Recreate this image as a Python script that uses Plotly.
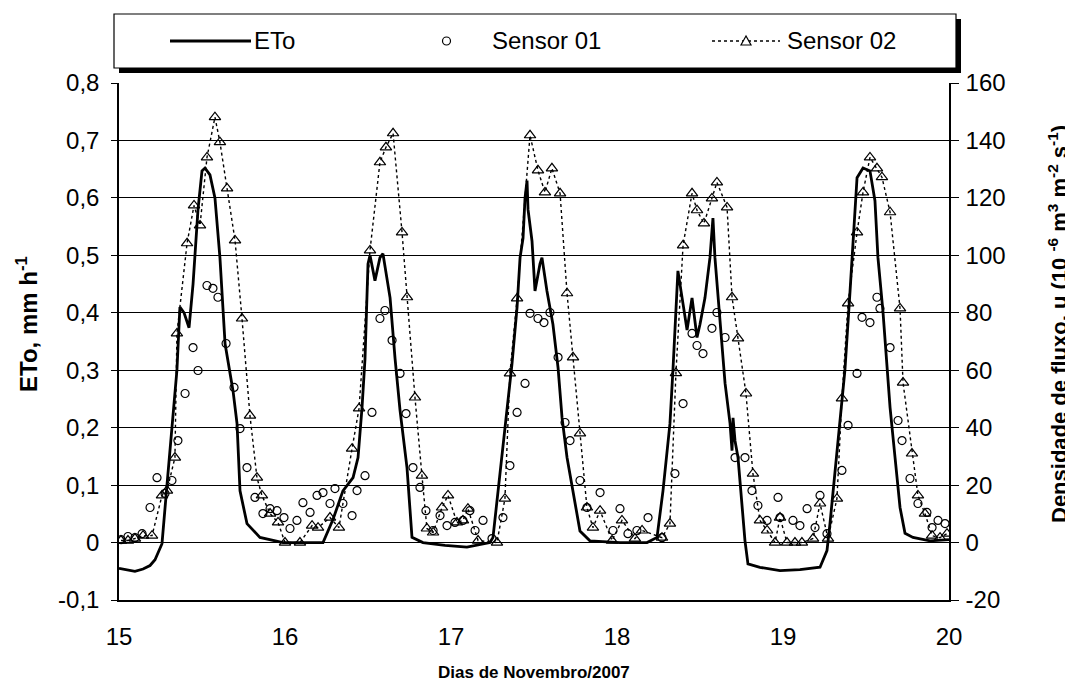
import plotly.graph_objects as go

# ---------------- data ----------------
# ETo (mm h-1) vs day of November 2007
eto_t = [15.000,15.048,15.096,15.145,15.187,15.217,15.241,15.259,15.289,15.319,15.349,15.367,15.392,15.422,15.446,15.476,15.500,15.518,15.548,15.578,15.608,15.639,15.687,15.711,15.729,15.771,15.849,15.988,16.090,16.229,16.289,16.349,16.410,16.440,16.464,16.482,16.500,16.512,16.542,16.572,16.590,16.633,16.663,16.693,16.735,16.765,16.831,16.964,17.096,17.235,17.253,17.295,17.325,17.367,17.398,17.416,17.434,17.446,17.458,17.464,17.488,17.506,17.536,17.548,17.578,17.614,17.645,17.669,17.699,17.735,17.777,17.837,18.018,18.181,18.241,18.277,18.319,18.337,18.367,18.398,18.422,18.452,18.482,18.500,18.530,18.560,18.578,18.590,18.620,18.651,18.681,18.693,18.699,18.711,18.729,18.753,18.771,18.789,18.861,18.982,19.102,19.223,19.265,19.283,19.313,19.343,19.373,19.404,19.422,19.446,19.482,19.524,19.554,19.572,19.602,19.627,19.645,19.675,19.705,19.735,19.783,19.886,20.000]
eto_v = [-0.045,-0.048,-0.050,-0.046,-0.040,-0.030,-0.015,-0.002,0.100,0.200,0.300,0.410,0.400,0.374,0.450,0.580,0.647,0.652,0.640,0.600,0.496,0.346,0.264,0.207,0.090,0.033,0.009,0.000,0.000,0.000,0.040,0.090,0.113,0.148,0.235,0.320,0.485,0.500,0.456,0.496,0.503,0.426,0.320,0.230,0.130,0.009,0.000,-0.005,-0.008,0.000,0.009,0.120,0.207,0.310,0.410,0.496,0.530,0.600,0.630,0.580,0.525,0.438,0.485,0.496,0.438,0.380,0.304,0.217,0.148,0.090,0.020,0.003,0.000,0.000,0.009,0.090,0.207,0.300,0.473,0.415,0.370,0.426,0.357,0.380,0.426,0.496,0.565,0.496,0.380,0.277,0.207,0.160,0.217,0.177,0.148,0.061,0.003,-0.037,-0.043,-0.049,-0.047,-0.043,-0.014,0.033,0.120,0.207,0.300,0.438,0.525,0.635,0.652,0.647,0.595,0.496,0.403,0.300,0.235,0.148,0.061,0.016,0.009,0.003,0.005]

# Sensor 01 (flux density, 10-6 m3 m-2 s-1)
s1_t = [15.012,15.054,15.096,15.139,15.187,15.229,15.277,15.319,15.355,15.398,15.446,15.476,15.530,15.566,15.596,15.645,15.693,15.729,15.771,15.819,15.867,15.910,15.952,15.994,
        16.030,16.072,16.108,16.151,16.193,16.229,16.271,16.301,16.349,16.404,16.434,16.482,16.524,16.572,16.602,16.645,16.693,16.729,16.771,16.813,16.849,16.892,16.934,16.976,
        17.024,17.072,17.114,17.145,17.193,17.247,17.313,17.355,17.398,17.446,17.476,17.524,17.560,17.596,17.645,17.687,17.717,17.777,17.819,17.898,17.976,
        18.018,18.066,18.120,18.187,18.271,18.349,18.398,18.452,18.482,18.518,18.572,18.602,18.651,18.711,18.771,18.813,18.849,18.904,18.970,18.982,
        19.060,19.102,19.145,19.193,19.223,19.265,19.355,19.392,19.446,19.476,19.524,19.566,19.584,19.645,19.693,19.717,19.765,19.813,19.867,19.898,19.934,19.976]
s1_v = [1.0,2.1,1.7,3.1,12.2,22.6,17.1,21.6,35.5,51.9,67.9,59.9,89.5,88.5,85.4,69.3,54.0,39.7,26.1,15.7,10.1,11.8,11.1,8.7,
        4.9,7.7,13.9,10.5,16.4,17.4,13.6,18.8,13.6,9.4,18.1,23.3,45.3,78.0,80.8,70.4,58.9,44.9,26.1,19.2,11.1,4.2,9.4,5.9,
        7.0,7.7,11.1,4.2,7.7,1.4,8.7,26.8,45.3,55.4,79.8,78.0,76.6,80.1,64.5,41.8,35.5,21.6,12.2,17.4,4.2,
        11.8,3.1,4.2,8.7,1.7,24.0,48.4,72.8,68.6,65.8,74.6,80.1,71.4,29.6,29.6,18.1,12.9,7.7,15.7,8.7,
        7.7,5.9,11.8,5.2,16.4,3.1,25.1,40.8,58.9,78.4,76.6,85.4,81.5,67.9,42.5,35.5,22.3,13.6,10.5,5.2,7.7,6.6]

# Sensor 02
s2_t = [15.012,15.054,15.096,15.145,15.199,15.259,15.289,15.337,15.349,15.410,15.452,15.488,15.530,15.578,15.608,15.651,15.699,15.741,15.789,15.831,15.861,15.910,15.958,16.000,
        16.090,16.163,16.199,16.271,16.325,16.404,16.446,16.512,16.572,16.608,16.651,16.705,16.735,16.783,16.825,16.855,16.892,16.946,16.982,
        17.036,17.072,17.102,17.163,17.277,17.325,17.355,17.398,17.476,17.524,17.566,17.608,17.657,17.699,17.735,17.777,17.819,17.855,17.898,17.970,
        18.030,18.108,18.151,18.271,18.319,18.355,18.398,18.452,18.482,18.524,18.572,18.602,18.663,18.693,18.729,18.777,18.819,18.861,18.904,18.952,18.982,
        19.024,19.072,19.114,19.181,19.223,19.271,19.325,19.355,19.392,19.446,19.482,19.524,19.566,19.596,19.645,19.705,19.723,19.777,19.813,19.855,19.898,19.946,19.988]
s2_v = [0.7,0.7,1.4,2.4,2.4,16.4,18.1,29.6,72.8,104.2,117.4,110.4,134.1,148.1,139.4,123.3,105.2,78.0,44.2,22.6,16.4,10.1,7.0,0.0,
        0.0,5.9,5.2,8.7,5.2,32.7,46.7,101.7,132.4,137.6,142.5,108.0,85.4,50.5,23.3,4.9,3.5,12.2,16.4,
        7.0,7.7,11.8,0.7,0.0,15.3,58.9,85.0,141.8,129.6,121.9,130.3,121.6,86.8,64.5,38.0,12.2,5.2,11.1,0.7,
        7.7,1.4,4.2,1.7,6.6,59.0,103.5,121.6,115.7,111.1,119.8,125.4,116.7,85.4,71.1,51.9,24.0,7.7,4.2,0.0,8.7,
        0.0,0.0,0.0,1.4,13.6,1.4,15.3,50.2,83.3,108.0,121.9,134.1,130.3,127.2,115.0,81.5,55.7,31.0,16.4,10.1,2.4,1.7,3.1]

series_names = ["ETo", "Sensor 01", "Sensor 02"]
x_tickvals = [15, 16, 17, 18, 19, 20]
x_ticktext = ["15", "16", "17", "18", "19", "20"]
y_tickvals = [-0.1, 0, 0.1, 0.2, 0.3, 0.4, 0.5, 0.6, 0.7, 0.8]
y_ticktext = ["-0,1", "0", "0,1", "0,2", "0,3", "0,4", "0,5", "0,6", "0,7", "0,8"]
y2_tickvals = [-20, 0, 20, 40, 60, 80, 100, 120, 140, 160]
y2_ticktext = [str(v) for v in y2_tickvals]

x_title = "<b>Dias de Novembro/2007</b>"
y_title = "<b>ETo, mm h<sup>-1</sup></b>"
y2_title = "<b>Densidade de fluxo, u (10 <sup>-6</sup> m<sup>3</sup> m<sup>-2</sup> s<sup>-1</sup>)</b>"

# ---------------- layout geometry (screen pixels of the reference) ----------------
OFF = 8                      # default page margin of the html body
W, H = 1073 - OFF, 692 - OFF
L, R, T, B = 119, 949, 83, 600
FONT = "Liberation Sans, Arial, sans-serif"


def px(x):
    return (x - L) / (R - L)


def py(y):
    return (B - y) / (B - T)


fig = go.Figure()
fig.add_trace(go.Scatter(x=eto_t, y=eto_v, mode="lines", name=series_names[0],
                         line=dict(color="black", width=2.8), showlegend=False))
fig.add_trace(go.Scatter(x=s1_t, y=s1_v, mode="markers", name=series_names[1], yaxis="y2",
                         marker=dict(symbol="circle-open", size=8, color="black",
                                     line=dict(width=1.2, color="black")), showlegend=False))
fig.add_trace(go.Scatter(x=s2_t, y=s2_v, mode="lines+markers", name=series_names[2], yaxis="y2",
                         line=dict(color="black", width=1.4, dash="dot"),
                         marker=dict(symbol="triangle-up-open", size=10, color="black",
                                     line=dict(width=1.2, color="black")), showlegend=False))

# custom legend (box with drop shadow)
ly = 41
shapes = [
    dict(type="rect", xref="paper", yref="paper", x0=px(119), x1=px(961), y0=py(73), y1=py(19),
         fillcolor="black", line=dict(width=0)),
    dict(type="rect", xref="paper", yref="paper", x0=px(114), x1=px(956), y0=py(68), y1=py(14),
         fillcolor="white", line=dict(color="black", width=1.2)),
    dict(type="line", xref="paper", yref="paper", x0=px(170), x1=px(251), y0=py(ly), y1=py(ly),
         line=dict(color="black", width=3)),
    dict(type="circle", xref="paper", yref="paper", x0=px(442.5), x1=px(450.5), y0=py(ly + 4), y1=py(ly - 4),
         line=dict(color="black", width=1.2)),
    dict(type="line", xref="paper", yref="paper", x0=px(712), x1=px(780), y0=py(ly), y1=py(ly),
         line=dict(color="black", width=1.4, dash="dot")),
    dict(type="path", xref="paper", yref="paper",
         path=f"M {px(746)} {py(ly-5)} L {px(741)} {py(ly+4)} L {px(751)} {py(ly+4)} Z",
         fillcolor="white", line=dict(color="black", width=1.2)),
]

legend_font = dict(family=FONT, size=24, color="black")
annotations = [
    dict(text=series_names[0], x=px(252), y=py(ly), xref="paper", yref="paper",
         xanchor="left", yanchor="middle", showarrow=False, font=legend_font),
    dict(text=series_names[1], x=px(490), y=py(ly), xref="paper", yref="paper",
         xanchor="left", yanchor="middle", showarrow=False, font=legend_font),
    dict(text=series_names[2], x=px(785), y=py(ly), xref="paper", yref="paper",
         xanchor="left", yanchor="middle", showarrow=False, font=legend_font),
    dict(text=y_title, x=px(27), y=py(324), xref="paper", yref="paper", textangle=-90,
         xanchor="center", yanchor="middle", showarrow=False,
         font=dict(family=FONT, size=24, color="black")),
    dict(text=y2_title, x=px(1058), y=py(324), xref="paper", yref="paper", textangle=-90,
         xanchor="center", yanchor="middle", showarrow=False,
         font=dict(family=FONT, size=22, color="black")),
    dict(text=x_title, x=px(534), y=py(672), xref="paper", yref="paper",
         xanchor="center", yanchor="middle", showarrow=False,
         font=dict(family=FONT, size=17, color="black")),
]

tick_font = dict(family=FONT, size=24, color="black")
fig.update_layout(
    width=W, height=H,
    margin=dict(l=L - OFF, r=W - (R - OFF), t=T - OFF, b=H - (B - OFF), pad=0),
    paper_bgcolor="white", plot_bgcolor="white",
    showlegend=False,
    shapes=shapes, annotations=annotations,
    xaxis=dict(range=[15, 20], tickvals=x_tickvals, ticktext=x_ticktext, ticks="",
               showline=True, linecolor="black", linewidth=1.5, showgrid=False, zeroline=False,
               tickfont=tick_font, ticklabelstandoff=14),
    yaxis=dict(range=[-0.1, 0.8], tickvals=y_tickvals, ticktext=y_ticktext, ticks="outside",
               ticklen=6, tickcolor="black", showline=True, linecolor="black", linewidth=1.5,
               showgrid=True, gridcolor="black", gridwidth=1, zeroline=False,
               tickfont=tick_font, ticklabelstandoff=7),
    yaxis2=dict(range=[-20, 160], tickvals=y2_tickvals, ticktext=y2_ticktext, overlaying="y",
                side="right", ticks="outside", ticklen=8, tickcolor="black", showline=True,
                linecolor="black", linewidth=1.5, showgrid=False, zeroline=False,
                tickfont=tick_font, ticklabelstandoff=2),
)

fig.write_html("out.html")
